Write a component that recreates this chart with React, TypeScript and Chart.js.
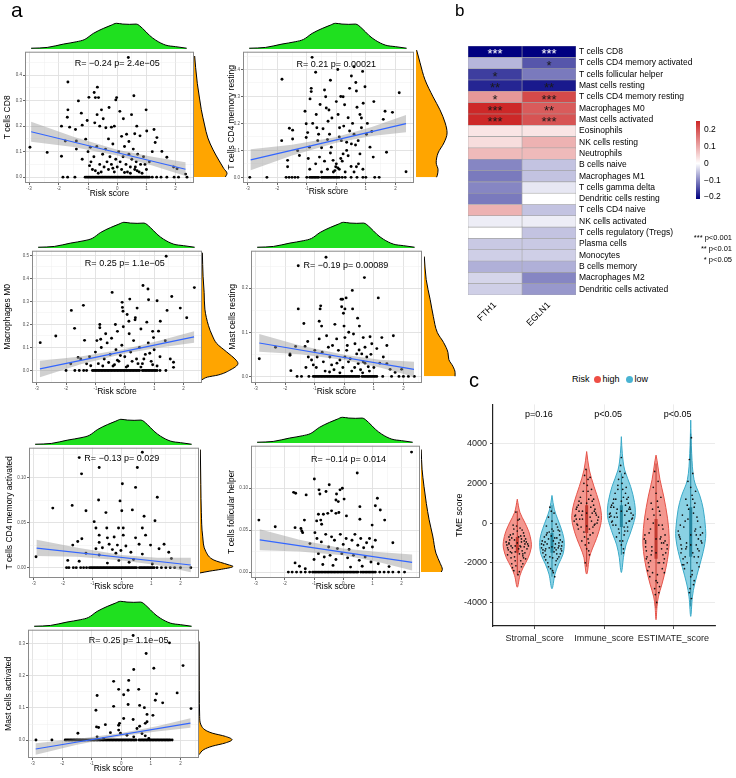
import React, { useEffect, useRef } from "react";
import { Chart, registerables } from "chart.js";

Chart.register(...registerables);

const FONT = "'Liberation Sans', Arial, Helvetica, sans-serif";
Chart.defaults.font.family = FONT;
Chart.defaults.color = "#000";

type XY = [number, number];

// ================= Panel a : shared risk score axis =================
const riskTicks = [-3, -2, -1, 0, 1, 2];
const riskMinor = [-2.5, -1.5, -0.5, 0.5, 1.5, 2.5];
const riskMin = -3.16;
const riskMax = 2.63;
const riskDensX = [-2.95, -2.4, -1.84, -1.39, -1.11, -0.82, -0.48, -0.2, -0.03, 0.19, 0.42, 0.65, 0.87, 1.1, 1.32, 1.66, 2.0, 2.38];
const riskDensY = [0.03, 0.06, 0.19, 0.28, 0.37, 0.6, 0.79, 0.92, 0.99, 0.96, 0.95, 0.96, 0.79, 0.53, 0.34, 0.15, 0.09, 0.03];
// many samples sit exactly at zero fraction; these fill the dense centre of that row
const denseZeroRow: XY[] = [
  [-1.05, 0], [-0.95, 0], [-0.85, 0], [-0.75, 0], [-0.65, 0], [-0.55, 0], [-0.45, 0], [-0.35, 0], [-0.25, 0], [-0.15, 0],
  [-0.05, 0], [0.05, 0], [0.15, 0], [0.25, 0], [0.35, 0], [0.45, 0], [0.65, 0], [0.75, 0], [0.85, 0], [0.95, 0], [1.05, 0],
];

// ---- T cells CD8 ----
const cd8Points: XY[] = [
  [-2.99, 0.117], [-2.4, 0.097], [-1.91, 0.082], [-1.91, 0.2], [-1.69, 0.373], [-1.69, 0.264], [-1.71, 0.235], [-1.63, 0.196],
  [-1.78, 0.142], [-1.43, 0.187], [-1.33, 0.299], [-1.23, 0.251], [-1.2, 0.204], [-1.4, 0.142], [-1.08, 0.149], [-1.03, 0.222],
  [-0.97, 0.313], [-0.92, 0.117], [-0.79, 0.332], [-0.68, 0.353], [-0.75, 0.312], [-0.64, 0.312], [-0.69, 0.245], [-0.77, 0.213],
  [-0.54, 0.264], [-0.48, 0.229], [-0.6, 0.2], [-0.39, 0.194], [-0.28, 0.273], [-0.2, 0.196], [-0.1, 0.2], [-0.02, 0.312],
  [-0.05, 0.303], [0.09, 0.258], [0.21, 0.229], [0.32, 0.168], [0.38, 0.469], [0.57, 0.319], [0.49, 0.245], [0.67, 0.2],
  [0.78, 0.162], [0.99, 0.264], [1.01, 0.181], [1.26, 0.187], [1.3, 0.136], [1.36, 0.155], [1.53, 0.101], [1.7, 0.078],
  [1.93, 0.04], [2.05, 0.033], [2.34, 0.012],
  [-1.0, 0.1], [-0.9, 0.06], [-0.85, 0.03], [-0.8, 0.08], [-0.7, 0.12], [-0.6, 0.05], [-0.55, 0.02], [-0.5, 0.09], [-0.45, 0.04],
  [-0.4, 0.11], [-0.35, 0.06], [-0.3, 0.03], [-0.25, 0.08], [-0.2, 0.05], [-0.15, 0.13], [-0.1, 0.02], [-0.05, 0.07], [0, 0.04],
  [0.05, 0.1], [0.1, 0.06], [0.15, 0.03], [0.2, 0.08], [0.25, 0.12], [0.3, 0.05], [0.35, 0.02], [0.4, 0.09], [0.45, 0.04],
  [0.5, 0.07], [0.55, 0.11], [0.6, 0.03], [0.65, 0.06], [0.7, 0.09], [0.75, 0.02], [0.8, 0.05], [0.9, 0.08], [1.0, 0.03],
  [1.1, 0.06], [1.2, 0.1], [-1.2, 0.07], [-1.4, 0.11], [-0.65, 0.015], [0.45, 0.015], [0.62, 0.04], [0.68, 0.025], [-0.95, 0.045],
  [0.85, 0.015], [-0.3, 0.15], [0.15, 0.16], [0.4, 0.14], [0.6, 0.17], [-0.75, 0.025], [-0.15, 0.035], [0.25, 0.018], [0.95, 0.05],
  [-1.86, 0], [-1.7, 0], [-1.45, 0], [-1.1, 0], [-1.0, 0], [-0.9, 0], [-0.8, 0], [-0.7, 0], [-0.6, 0], [-0.5, 0], [-0.4, 0],
  [-0.3, 0], [-0.2, 0], [-0.1, 0], [0, 0], [0.1, 0], [0.2, 0], [0.3, 0], [0.4, 0], [0.5, 0], [0.55, 0], [0.6, 0], [0.7, 0],
  [0.8, 0], [0.9, 0], [1.0, 0], [1.1, 0], [1.2, 0], [1.35, 0], [1.5, 0], [1.7, 0], [1.95, 0], [2.1, 0], [2.39, 0],
  ...denseZeroRow,
];
const cd8Line: XY[] = [[-2.95, 0.178], [2.34, 0.031]];
const cd8BandX = [-2.95, -1.5, 0, 1.2, 2.34];
const cd8BandHi = [0.217, 0.158, 0.107, 0.08, 0.058];
const cd8BandLo = [0.139, 0.118, 0.085, 0.046, 0.004];
const cd8Dens: XY[] = [[0, 0.95], [0.014, 1.0], [0.033, 0.9], [0.065, 0.75], [0.104, 0.58], [0.15, 0.42], [0.2, 0.32], [0.26, 0.22], [0.3, 0.17], [0.36, 0.1], [0.42, 0.05], [0.465, 0.02]];

// ---- T cells CD4 memory resting ----
const cd4RestPoints: XY[] = [
  [-2.93, 0], [-2.35, 0], [-1.85, 0.136], [-1.84, 0.364], [-1.65, 0.063], [-1.65, 0.039], [-1.59, 0.182], [-1.48, 0.175],
  [-1.48, 0.142], [-1.31, 0.099], [-1.25, 0.081], [-1.06, 0.245], [-1.02, 0.199], [-0.97, 0.166], [-1.02, 0.148], [-0.91, 0.112],
  [-0.85, 0.318], [-0.89, 0.291], [-0.85, 0.33], [-0.82, 0.445], [-0.68, 0.233], [-0.66, 0.184], [-0.63, 0.136], [-0.57, 0.075],
  [-0.4, 0.324], [-0.36, 0.299], [-0.34, 0.257], [-0.28, 0.208], [-0.23, 0.16], [-0.17, 0.112], [-0.11, 0.063], [0, 0.281],
  [0.06, 0.233], [0.11, 0.184], [0.17, 0.136], [0.23, 0.087], [-0.02, 0.039], [0.23, 0.299], [0.28, 0.269], [0.4, 0.221],
  [0.45, 0.172], [0.51, 0.124], [0.51, 0.376], [0.66, 0.352], [0.68, 0.32], [0.89, 0.393], [0.97, 0.336], [0.91, 0.275],
  [0.8, 0.233], [0.85, 0.184], [0.74, 0.136], [0.8, 0.087], [0.68, 0.039], [1.27, 0.281], [1.02, 0.16], [1.14, 0.112],
  [1.25, 0.075], [1.65, 0.245], [1.9, 0.241], [1.7, 0.093], [1.59, 0.215], [2.13, 0.314], [2.36, 0.021],
  [-0.9, 0.03], [-0.7, 0.05], [-0.5, 0.02], [-0.4, 0.06], [-0.3, 0.03], [-0.2, 0.09], [-0.1, 0.02], [0, 0.05], [0.1, 0.03],
  [0.2, 0.06], [0.3, 0.02], [0.4, 0.08], [0.5, 0.04], [0.6, 0.02], [0.75, 0.05], [0.9, 0.03], [-0.05, 0.025], [0.05, 0.035],
  [-0.8, 0.2], [-0.6, 0.16], [-0.45, 0.18], [-0.3, 0.14], [-0.15, 0.22], [0.1, 0.15], [0.25, 0.19], [0.35, 0.13], [0.55, 0.2],
  [0.6, 0.16], [0.7, 0.26], [0.85, 0.22], [1.05, 0.2], [1.2, 0.17], [-0.55, 0.27], [0.15, 0.3], [0.45, 0.33], [-0.2, 0.36],
  [0.05, 0.4], [0.6, 0.41], [-0.7, 0.39], [-0.5, 0.11], [-0.25, 0.25], [0.35, 0.1], [0.65, 0.12], [-0.95, 0.07], [0.15, 0.07],
  [-1.7, 0], [-1.6, 0], [-1.5, 0], [-1.4, 0], [-1.3, 0], [-1.0, 0], [-0.9, 0], [-0.8, 0], [-0.7, 0], [-0.6, 0], [-0.5, 0],
  [-0.4, 0], [-0.3, 0], [-0.2, 0], [-0.1, 0], [0, 0], [0.1, 0], [0.2, 0], [0.3, 0], [0.5, 0], [0.7, 0], [0.9, 0], [1.0, 0],
  [1.3, 0], [1.45, 0], [-0.85, 0], [-0.75, 0], [-0.65, 0], [-0.45, 0], [-0.35, 0], [-0.25, 0], [-0.15, 0], [-0.05, 0], [0.05, 0],
];
const cd4RestLine: XY[] = [[-2.9, 0.065], [2.36, 0.199]];
const cd4RestBandX = [-2.9, -1.5, 0, 1.2, 2.36];
const cd4RestBandHi = [0.104, 0.121, 0.15, 0.187, 0.231];
const cd4RestBandLo = [0.026, 0.081, 0.128, 0.153, 0.167];
const cd4RestDens: XY[] = [[0, 0.66], [0.005, 0.68], [0.027, 0.71], [0.052, 0.65], [0.088, 0.71], [0.125, 0.9], [0.161, 1.0], [0.197, 0.94], [0.245, 0.77], [0.292, 0.55], [0.354, 0.29], [0.416, 0.13], [0.462, 0.02]];

// ---- Macrophages M0 ----
const m0Points: XY[] = [
  [-2.88, 0.121], [-2.35, 0.15], [-1.82, 0.261], [-1.71, 0.183], [-1.84, 0.029], [-1.59, 0.057], [-1.5, 0.05], [-1.41, 0.283],
  [-1.37, 0.131], [-1.3, 0.029], [-1.16, 0.021], [-0.85, 0.2], [-0.85, 0.186], [-0.82, 0.136], [-0.43, 0.339], [-0.32, 0.2],
  [-0.09, 0.296], [-0.08, 0.274], [-0.06, 0.257], [0.08, 0.243], [0.14, 0.214], [0.17, 0.31], [0.42, 0.271], [0.36, 0.229],
  [0.62, 0.369], [0.79, 0.354], [0.81, 0.307], [1.1, 0.303], [1.41, 0.496], [1.6, 0.321], [1.44, 0.261], [1.89, 0.271],
  [2.11, 0.229], [2.37, 0.36], [1.38, 0.129], [1.55, 0.05], [1.66, 0.014], [1.66, 0.036], [1.21, 0.214], [1.15, 0.171], [0.98, 0.143],
  [-1.2, 0.06], [-1.0, 0.08], [-0.9, 0.03], [-0.8, 0.1], [-0.7, 0.05], [-0.6, 0.12], [-0.5, 0.07], [-0.4, 0.02], [-0.3, 0.09],
  [-0.2, 0.04], [-0.1, 0.11], [0, 0.06], [0.1, 0.02], [0.2, 0.08], [0.3, 0.13], [0.4, 0.05], [0.5, 0.1], [0.6, 0.03], [0.7, 0.07],
  [0.8, 0.12], [0.9, 0.04], [1.0, 0.09], [1.1, 0.02], [1.2, 0.06], [-0.65, 0.16], [-0.25, 0.17], [0.15, 0.16], [0.55, 0.18],
  [0.75, 0.21], [-0.05, 0.19], [0.35, 0.22], [-0.45, 0.14], [0.95, 0.17], [-0.95, 0.13], [0.05, 0.015], [-0.35, 0.025], [0.45, 0.03],
  [-0.55, 0.035], [0.25, 0.04], [0.65, 0.05], [-0.15, 0.065], [0.85, 0.075], [-0.75, 0.02], [0.55, 0.015], [0.95, 0.025], [-0.25, 0.045],
  [-2.0, 0], [-1.7, 0], [-1.55, 0], [-1.4, 0], [-1.3, 0], [-1.1, 0], [-1.0, 0], [-0.9, 0], [-0.8, 0], [-0.7, 0], [-0.6, 0],
  [-0.5, 0], [-0.4, 0], [-0.3, 0], [-0.2, 0], [-0.1, 0], [0, 0], [0.1, 0], [0.2, 0], [0.3, 0], [0.4, 0], [0.5, 0], [0.6, 0],
  [0.7, 0], [0.8, 0], [0.9, 0], [1.0, 0], [1.1, 0], [1.2, 0], [1.4, 0],
  ...denseZeroRow,
];
const m0Line: XY[] = [[-2.89, 0.007], [2.36, 0.146]];
const m0BandX = [-2.89, -1.5, 0, 1.2, 2.36];
const m0BandHi = [0.043, 0.061, 0.094, 0.13, 0.171];
const m0BandLo = [-0.029, 0.027, 0.074, 0.1, 0.121];
const m0Dens: XY[] = [[-0.04, 0.0], [-0.029, 0.15], [-0.02, 0.45], [0, 0.77], [0.029, 1.0], [0.043, 0.95], [0.079, 0.68], [0.114, 0.41], [0.15, 0.28], [0.19, 0.18], [0.26, 0.08], [0.33, 0.06], [0.4, 0.03], [0.5, 0.01]];

// ---- Mast cells resting ----
const mastRestPoints: XY[] = [
  [-2.88, 0.04], [-2.33, 0.066], [-1.84, 0.048], [-1.84, 0.051], [-1.81, 0.013], [-1.65, 0.068], [-1.56, 0.251], [-1.56, 0.153],
  [-1.37, 0.12], [-1.33, 0.068], [-1.24, 0.079], [-1.22, 0.044], [-1.11, 0.037], [-1.05, 0.026], [-1.0, 0.059], [-0.92, 0.044],
  [-0.85, 0.125], [-0.8, 0.16], [-0.82, 0.153], [-0.77, 0.114], [-0.62, 0.27], [-0.6, 0.092], [-0.54, 0.066], [-0.49, 0.044],
  [-0.43, 0.026], [-0.71, 0.033], [-0.32, 0.118], [-0.26, 0.085], [-0.2, 0.059], [-0.15, 0.037], [-0.11, 0.175], [-0.06, 0.175],
  [-0.09, 0.158], [-0.03, 0.143], [-0.01, 0.114], [0.02, 0.088], [0.08, 0.059], [0.14, 0.033], [0.02, 0.044], [0.06, 0.178],
  [0.02, 0.153], [0.27, 0.195], [0.28, 0.153], [0.31, 0.096], [0.36, 0.074], [0.42, 0.051], [0.47, 0.029], [0.45, 0.132],
  [0.51, 0.114], [0.68, 0.224], [0.64, 0.088], [0.7, 0.066], [0.76, 0.044], [0.81, 0.022], [0.59, 0.051], [0.64, 0.033],
  [0.87, 0.09], [0.93, 0.074], [1.15, 0.178], [1.27, 0.088], [1.1, 0.063], [1.32, 0.044], [1.44, 0.07], [1.66, 0.092],
  [1.44, 0.029], [1.55, 0.016], [1.72, 0.009], [1.94, 0.016],
  [-0.95, 0.02], [-0.75, 0.055], [-0.65, 0.012], [-0.4, 0.07], [-0.35, 0.015], [-0.25, 0.03], [-0.05, 0.02], [0.1, 0.07],
  [0.2, 0.04], [0.25, 0.012], [0.5, 0.06], [0.55, 0.015], [0.7, 0.03], [0.9, 0.05], [1.0, 0.02], [1.2, 0.03], [-1.3, 0.02],
  [-0.5, 0.01], [-0.15, 0.008], [0.35, 0.02], [0.62, 0.008], [0.85, 0.012], [-0.85, 0.085], [0.15, 0.1],
  [-1.45, 0], [-1.6, 0], [-1.2, 0], [-1.0, 0], [-0.9, 0], [-0.8, 0], [-0.7, 0], [-0.6, 0], [-0.5, 0], [-0.4, 0], [-0.3, 0],
  [-0.2, 0], [-0.1, 0], [0, 0], [0.1, 0], [0.2, 0], [0.3, 0], [0.4, 0], [0.5, 0], [0.6, 0], [0.7, 0], [0.8, 0], [0.9, 0],
  [1.0, 0], [1.1, 0], [1.3, 0], [1.6, 0], [1.85, 0], [2.0, 0], [2.17, 0], [2.37, 0],
  ...denseZeroRow,
];
const mastRestLine: XY[] = [[-2.88, 0.0757], [2.36, 0.016]];
const mastRestBandX = [-2.88, -1.5, 0, 1.2, 2.36];
const mastRestBandHi = [0.096, 0.07, 0.049, 0.038, 0.033];
const mastRestBandLo = [0.056, 0.05, 0.037, 0.02, -0.001];
const mastRestDens: XY[] = [[0, 1.0], [0.008, 1.0], [0.022, 0.93], [0.037, 0.8], [0.053, 0.77], [0.075, 0.63], [0.097, 0.43], [0.133, 0.3], [0.17, 0.2], [0.215, 0.07], [0.266, 0.01]];

// ---- T cells CD4 memory activated ----
const cd4ActPoints: XY[] = [
  [0.7, 0.128], [-1.45, 0.122], [-1.37, 0.104], [-0.77, 0.111], [0.53, 0.111], [0.02, 0.093], [0.47, 0.089], [-0.79, 0.075],
  [1.21, 0.078], [-0.06, 0.074], [-2.35, 0.066], [-1.69, 0.069], [-1.22, 0.063], [-0.54, 0.061], [0, 0.063], [0.36, 0.064],
  [0.76, 0.057], [1.13, 0.052], [-0.94, 0.051], [-0.88, 0.044], [-0.51, 0.044], [-0.11, 0.044], [0.05, 0.044], [0.7, 0.044],
  [-0.77, 0.036], [-0.49, 0.033], [-0.26, 0.034], [0.05, 0.036], [0.47, 0.033], [0.81, 0.036], [-1.36, 0.032], [-1.5, 0.029],
  [-1.67, 0.025], [-0.77, 0.028], [-0.43, 0.026], [-0.15, 0.025], [0.14, 0.024], [0.59, 0.026], [0.98, 0.025], [1.44, 0.026],
  [-0.88, 0.021], [-0.66, 0.022], [-0.32, 0.02], [-0.03, 0.019], [0.31, 0.017], [1.27, 0.021], [1.6, 0.017], [-1.22, 0.016],
  [-0.77, 0.014], [-0.2, 0.016], [0.7, 0.015], [1.69, 0.01], [-2.92, 0.012], [-1.84, 0.008], [-1.45, 0.007], [-0.49, 0.005],
  [0.25, 0.006], [1.04, 0.004], [-0.1, 0.008], [0.4, 0.009],
  [-1.88, 0], [-1.8, 0], [-1.65, 0], [-1.55, 0], [-1.4, 0], [-1.3, 0], [-1.2, 0], [-1.1, 0], [-1.0, 0], [-0.9, 0], [-0.8, 0],
  [-0.7, 0], [-0.6, 0], [-0.5, 0], [-0.4, 0], [-0.3, 0], [-0.2, 0], [-0.1, 0], [0, 0], [0.1, 0], [0.2, 0], [0.3, 0], [0.4, 0],
  [0.5, 0], [0.6, 0], [0.7, 0], [0.8, 0], [0.9, 0], [1.0, 0], [1.1, 0], [1.2, 0], [1.35, 0], [1.5, 0], [1.65, 0], [1.8, 0],
  [2.0, 0], [2.35, 0],
  ...denseZeroRow,
];
const cd4ActLine: XY[] = [[-2.9, 0.0217], [2.35, 0.0029]];
const cd4ActBandX = [-2.9, -1.5, 0, 1.2, 2.35];
const cd4ActBandHi = [0.031, 0.022, 0.014, 0.011, 0.011];
const cd4ActBandLo = [0.013, 0.012, 0.008, 0.003, -0.005];
const cd4ActDens: XY[] = [[-0.006, 0.0], [-0.004, 0.3], [-0.002, 0.65], [0.001, 1.0], [0.003, 0.85], [0.008, 0.42], [0.017, 0.18], [0.034, 0.08], [0.06, 0.04], [0.09, 0.025], [0.128, 0.01]];

// ---- T cells follicular helper ----
const tfhPoints: XY[] = [
  [2.34, 0.143], [0.48, 0.118], [-0.99, 0.111], [-0.48, 0.104], [-1.7, 0.095], [-1.63, 0.094], [-1.27, 0.092], [-0.83, 0.098],
  [-0.8, 0.093], [-0.59, 0.096], [-0.23, 0.093], [-0.11, 0.098], [-0.03, 0.1], [-0.25, 0.086], [-0.17, 0.084], [0.03, 0.087],
  [0.57, 0.078], [1.17, 0.088], [1.1, 0.079], [1.27, 0.074], [-0.85, 0.069], [-0.68, 0.069], [-0.53, 0.07], [-0.4, 0.073],
  [-0.25, 0.07], [-0.15, 0.071], [0.11, 0.067], [-2.89, 0.062], [-2.33, 0.054], [-1.33, 0.062], [-1.65, 0.053], [-1.45, 0.052],
  [-1.42, 0.049], [-1.39, 0.047], [-0.91, 0.061], [-0.77, 0.062], [-0.74, 0.057], [0.57, 0.063], [0.99, 0.056], [1.42, 0.062],
  [1.7, 0.035], [-1.14, 0.034], [-0.97, 0.047],
  [-0.9, 0.04], [-0.75, 0.036], [-0.6, 0.045], [-0.5, 0.03], [-0.4, 0.042], [-0.3, 0.038], [-0.2, 0.028], [-0.1, 0.045],
  [0, 0.033], [0.1, 0.04], [0.2, 0.027], [0.3, 0.038], [0.4, 0.045], [0.5, 0.032], [0.6, 0.04], [0.7, 0.029], [0.8, 0.035],
  [0.9, 0.04], [1.0, 0.03], [1.1, 0.038], [-0.85, 0.022], [-0.65, 0.018], [-0.45, 0.02], [-0.25, 0.015], [-0.05, 0.022],
  [0.15, 0.017], [0.35, 0.02], [0.55, 0.014], [0.75, 0.018], [0.95, 0.012], [-1.0, 0.015], [-0.7, 0.009], [-0.35, 0.008],
  [0.25, 0.006], [0.65, 0.007], [1.2, 0.01], [-1.65, 0.011], [-1.5, 0.007], [-1.3, 0.004], [1.57, 0.0066],
  [-1.88, 0], [-1.75, 0], [-1.6, 0], [-1.45, 0], [-1.3, 0], [-1.15, 0], [-1.0, 0], [-0.9, 0], [-0.8, 0], [-0.7, 0], [-0.6, 0],
  [-0.5, 0], [-0.4, 0], [-0.3, 0], [-0.2, 0], [-0.1, 0], [0, 0], [0.1, 0], [0.2, 0], [0.3, 0], [0.4, 0], [0.5, 0], [0.6, 0],
  [0.7, 0], [0.8, 0], [0.9, 0], [1.0, 0], [1.1, 0], [1.25, 0], [1.4, 0], [1.55, 0], [1.7, 0], [1.9, 0], [2.1, 0],
  ...denseZeroRow,
];
const tfhLine: XY[] = [[-2.86, 0.0385], [2.36, 0.0117]];
const tfhBandX = [-2.86, -1.5, 0, 1.2, 2.36];
const tfhBandHi = [0.051, 0.0385, 0.028, 0.024, 0.021];
const tfhBandLo = [0.026, 0.0245, 0.02, 0.012, 0.002];
const tfhDens: XY[] = [[0, 0.95], [0.003, 1.0], [0.01, 0.9], [0.022, 0.7], [0.042, 0.55], [0.061, 0.38], [0.08, 0.25], [0.1, 0.14], [0.12, 0.05], [0.143, 0.01]];

// ---- Mast cells activated ----
const mastActPoints: XY[] = [
  [0.4, 0.326], [1.63, 0.303], [0.84, 0.27], [0.42, 0.22], [1.1, 0.224], [2.09, 0.232], [-0.26, 0.183], [0.25, 0.186],
  [-0.09, 0.158], [0.23, 0.155], [0.59, 0.158], [-0.82, 0.139], [0.08, 0.141], [1.19, 0.144], [1.89, 0.147], [1.15, 0.124],
  [1.4, 0.116], [0.23, 0.111], [0.62, 0.108], [-0.26, 0.105], [0.78, 0.101], [2.36, 0.098], [-0.86, 0.093], [0.87, 0.08],
  [1.07, 0.077], [0.08, 0.067], [0.4, 0.064], [-0.06, 0.052], [-0.09, 0.046], [-0.54, 0.048], [-0.84, 0.041], [-0.77, 0.039],
  [-1.47, 0.021], [-0.37, 0.023], [-0.09, 0.031], [-0.03, 0.021], [0.53, 0.036], [0.62, 0.043], [0.81, 0.052], [0.87, 0.057],
  [0.19, 0.015], [0.42, 0.01], [0.7, 0.02], [0.81, 0.013], [0.93, 0.005], [-0.82, 0.01], [-0.6, 0.005],
  [-2.89, 0], [-2.35, 0], [-1.9, 0], [-1.8, 0], [-1.7, 0], [-1.6, 0], [-1.5, 0], [-1.4, 0], [-1.3, 0], [-1.2, 0], [-1.1, 0],
  [-1.0, 0], [-0.9, 0], [-0.8, 0], [-0.7, 0], [-0.6, 0], [-0.5, 0], [-0.4, 0], [-0.3, 0], [-0.2, 0], [-0.1, 0], [0, 0],
  [0.1, 0], [0.2, 0], [0.3, 0], [0.4, 0], [0.5, 0], [0.6, 0], [0.7, 0], [0.8, 0], [0.9, 0], [1.0, 0], [1.1, 0], [1.2, 0],
  [1.3, 0], [1.4, 0], [1.5, 0], [1.6, 0], [1.72, 0], [-1.85, 0], [-1.75, 0], [-1.65, 0], [-1.55, 0], [-1.45, 0], [-1.35, 0],
  [-1.25, 0], [-1.15, 0], [1.15, 0], [1.25, 0], [1.35, 0], [1.45, 0], [1.55, 0], [1.65, 0],
  ...denseZeroRow,
];
const mastActLine: XY[] = [[-2.9, -0.028], [2.34, 0.053]];
const mastActBandX = [-2.9, -1.5, 0, 1.2, 2.34];
const mastActBandHi = [-0.01, 0.003, 0.022, 0.043, 0.068];
const mastActBandLo = [-0.046, -0.015, 0.012, 0.027, 0.038];
const mastActDens: XY[] = [[-0.046, 0.0], [-0.03, 0.15], [-0.02, 0.4], [-0.01, 0.8], [0, 1.0], [0.01, 0.8], [0.02, 0.4], [0.03, 0.18], [0.045, 0.06], [0.07, 0.02], [0.15, 0.01], [0.3, 0.004]];

// layout of the seven scatter panels
const panels = [
  { title: "T cells CD8", stat: "R= \u22120.24 p= 2.4e\u221205", statAt: [0, 0.444], pts: cd8Points, line: cd8Line, bandX: cd8BandX, bandHi: cd8BandHi, bandLo: cd8BandLo, dens: cd8Dens,
    yRange: [-0.023, 0.492], yTicks: [0, 0.1, 0.2, 0.3, 0.4], yMinor: [0.05, 0.15, 0.25, 0.35, 0.45], yDigits: 1,
    box: [25, 49, 194, 183], yTitleX: 8.3, xTitleY: 194.3, densLeft: 194, densW: 33 },
  { title: "T cells CD4 memory resting", stat: "R= 0.21 p= 0.00021", statAt: [0, 0.42], pts: cd4RestPoints, line: cd4RestLine, bandX: cd4RestBandX, bandHi: cd4RestBandHi, bandLo: cd4RestBandLo, dens: cd4RestDens,
    yRange: [-0.021, 0.466], yTicks: [0, 0.1, 0.2, 0.3, 0.4], yMinor: [0.05, 0.15, 0.25, 0.35, 0.45], yDigits: 1,
    box: [243, 49, 414, 183], yTitleX: 232, xTitleY: 192.3, densLeft: 416, densW: 31 },
  { title: "Macrophages M0", stat: "R= 0.25 p= 1.1e\u221205", statAt: [0, 0.464], pts: m0Points, line: m0Line, bandX: m0BandX, bandHi: m0BandHi, bandLo: m0BandLo, dens: m0Dens,
    yRange: [-0.054, 0.52], yTicks: [0, 0.1, 0.2, 0.3, 0.4, 0.5], yMinor: [0.05, 0.15, 0.25, 0.35, 0.45], yDigits: 1,
    box: [32, 248, 202, 383], yTitleX: 8.3, xTitleY: 391.7, densLeft: 202, densW: 36 },
  { title: "Mast cells resting", stat: "R= \u22120.19 p= 0.00089", statAt: [0.05, 0.252], pts: mastRestPoints, line: mastRestLine, bandX: mastRestBandX, bandHi: mastRestBandHi, bandLo: mastRestBandLo, dens: mastRestDens,
    yRange: [-0.015, 0.285], yTicks: [0, 0.1, 0.2], yMinor: [0.05, 0.15, 0.25], yDigits: 1,
    box: [251, 248, 422, 383], yTitleX: 232.7, xTitleY: 391.7, densLeft: 424, densW: 31 },
  { title: "T cells CD4 memory activated", stat: "R= \u22120.13 p= 0.029", statAt: [0, 0.121], pts: cd4ActPoints, line: cd4ActLine, bandX: cd4ActBandX, bandHi: cd4ActBandHi, bandLo: cd4ActBandLo, dens: cd4ActDens,
    yRange: [-0.0115, 0.133], yTicks: [0, 0.05, 0.1], yMinor: [0.025, 0.075, 0.125], yDigits: 2,
    box: [29, 445, 199, 578], yTitleX: 9.7, xTitleY: 587.3, densLeft: 200, densW: 33 },
  { title: "T cells follicular helper", stat: "R= \u22120.14 p= 0.014", statAt: [0.18, 0.134], pts: tfhPoints, line: tfhLine, bandX: tfhBandX, bandHi: tfhBandHi, bandLo: tfhBandLo, dens: tfhDens,
    yRange: [-0.007, 0.1506], yTicks: [0, 0.05, 0.1], yMinor: [0.025, 0.075, 0.125], yDigits: 2,
    box: [251, 443, 420, 578], yTitleX: 231.7, xTitleY: 587.3, densLeft: 421, densW: 21 },
  { title: "Mast cells activated", stat: "R= 0.25 p= 1.1e\u221205", statAt: [0.25, 0.311], pts: mastActPoints, line: mastActLine, bandX: mastActBandX, bandHi: mastActBandHi, bandLo: mastActBandLo, dens: mastActDens,
    yRange: [-0.056, 0.344], yTicks: [0, 0.1, 0.2, 0.3], yMinor: [0.05, 0.15, 0.25], yDigits: 1,
    box: [28, 627, 199, 758], yTitleX: 9.3, xTitleY: 769.3, densLeft: 199, densW: 33 },
];

// ================= Panel b : correlation heatmap =================
const heatRows = [
  "T cells CD8", "T cells CD4 memory activated", "T cells follicular helper", "Mast cells resting",
  "T cells CD4 memory resting", "Macrophages M0", "Mast cells activated", "Eosinophils", "NK cells resting",
  "Neutrophils", "B cells naive", "Macrophages M1", "T cells gamma delta", "Dendritic cells resting",
  "T cells CD4 naive", "NK cells activated", "T cells regulatory (Tregs)", "Plasma cells", "Monocytes",
  "B cells memory", "Macrophages M2", "Dendritic cells activated",
];
const heatCols = ["FTH1", "EGLN1"];
const fth1Cor = [-0.24, -0.06, -0.16, -0.18, 0.12, 0.25, 0.25, 0.03, 0.04, 0.08, -0.1, -0.11, -0.1, -0.11, 0.09, -0.015, 0.0, -0.045, -0.04, -0.065, -0.035, -0.04];
const egln1Cor = [-0.23, -0.14, -0.11, -0.19, 0.21, 0.19, 0.2, 0.03, 0.09, 0.08, -0.05, -0.05, -0.02, 0.0, -0.05, -0.015, -0.05, -0.045, -0.04, -0.065, -0.1, -0.085];
const fth1Stars = ["***", "", "*", "**", "*", "***", "***", "", "", "", "", "", "", "", "", "", "", "", "", "", "", ""];
const egln1Stars = ["***", "*", "", "**", "***", "**", "***", "", "", "", "", "", "", "", "", "", "", "", "", "", "", ""];
const colorbarRange = [-0.211, 0.252];
const colorbarTicks = [-0.2, -0.1, 0, 0.1, 0.2];
const colorbarLabels = ["\u22120.2", "\u22120.1", "0", "0.1", "0.2"];
const sigLegend = ["*** p<0.001", "** p<0.01", "* p<0.05"];

// ================= Panel c : TME score violins =================
const tmeCategories = ["Stromal_score", "Immune_score", "ESTIMATE_score"];
const tmePositions = [1, 2, 3];
const tmeTicks = [-4000, -2000, 0, 2000, 4000];
const tmePvalues = ["p=0.16", "p<0.05", "p<0.05"];
const riskGroups = ["high", "low"];

const vStromalHighY = [1200, 540, 50, -440, -930, -1260, -1750, -2230, -2650, -3230];
const vStromalHighW = [0, 0.038, 0.105, 0.167, 0.2, 0.2, 0.157, 0.086, 0.038, 0];
const vStromalLowY = [1390, 700, 210, -280, -770, -1180, -1590, -2070, -2570, -3310];
const vStromalLowW = [0, 0.033, 0.081, 0.133, 0.171, 0.176, 0.157, 0.095, 0.043, 0];
const vImmuneHighY = [3600, 2670, 1850, 1030, 380, -110, -770, -1260, -1750, -2410, -2570];
const vImmuneHighW = [0, 0.038, 0.105, 0.181, 0.214, 0.2, 0.143, 0.086, 0.038, 0.014, 0];
const vImmuneLowY = [4350, 3490, 2670, 1850, 1030, 380, -110, -610, -1100, -1750, -2250, -2490];
const vImmuneLowW = [0, 0.014, 0.048, 0.133, 0.19, 0.2, 0.167, 0.119, 0.067, 0.029, 0.014, 0];
const vEstimateHighY = [3420, 3160, 2180, 1360, 210, -770, -1430, -2250, -3070, -3720, -4210, -4870];
const vEstimateHighW = [0, 0.014, 0.057, 0.11, 0.167, 0.19, 0.181, 0.143, 0.086, 0.033, 0.014, 0];
const vEstimateLowY = [5180, 3490, 2180, 1360, 700, -280, -770, -1430, -2250, -3070, -3720, -4700];
const vEstimateLowW = [0, 0.014, 0.048, 0.133, 0.181, 0.214, 0.214, 0.181, 0.119, 0.057, 0.024, 0];

// boxplot stats: [lower whisker, q1, median, q3, upper whisker]
const bStromalHigh = [-2600, -1500, -1100, -700, 600];
const bStromalLow = [-2700, -1500, -1000, -500, 900];
const bImmuneHigh = [-2200, -500, 100, 900, 2700];
const bImmuneLow = [-1600, -200, 350, 900, 2500];
const bEstimateHigh = [-4300, -1800, -900, 200, 3000];
const bEstimateLow = [-4200, -1700, -500, 800, 4500];

// sample points: [offset from violin centre, TME score]
const jStromalHigh: XY[] = [[-0.12, -1050], [0.05, -1200], [0.1, -900], [-0.08, -1500], [0.02, -700], [-0.15, -1100], [0.14, -1300], [-0.03, -1900], [0.08, -1650], [-0.1, -600], [0.12, -800], [-0.05, -300], [0.03, 200], [-0.02, 550], [0.06, -2200], [-0.05, -2400], [0.0, -1000], [-0.13, -1350], [0.09, -500], [-0.09, -1750], [0.11, -1500], [0.04, -1150], [-0.04, -850], [0.15, -1050], [-0.16, -950], [0.07, -350], [-0.08, -2050], [0.01, -2600], [0.03, -1550], [-0.07, -1250], [0.12, -1800], [-0.01, -150], [0.06, -950], [-0.12, -700], [0.08, -2050], [-0.03, -1450], [0.1, -1200], [-0.14, -1600], [0.05, -650], [-0.06, -100],
  [-0.09, -1150], [0.07, -1400], [-0.04, -1700], [0.13, -950], [-0.11, -850], [0.02, -1300], [0.09, -1750], [-0.06, -550], [0.04, -250], [-0.14, -1250], [0.1, -650], [-0.02, -2150], [0.05, -1900], [-0.1, -1450], [0.16, -1150], [-0.07, -2250], [0.0, -400], [0.11, -1050], [-0.12, -1000], [0.06, -800], [-0.03, -1150], [0.03, -2450], [-0.08, -750], [0.08, -1550], [0.01, 150]];
const jStromalLow: XY[] = [[0.1, -1000], [-0.05, -800], [0.13, -1300], [-0.12, -1100], [0.02, -400], [-0.09, -1600], [0.06, -1900], [-0.02, -2300], [0.04, -2700], [-0.07, -500], [0.11, -600], [-0.14, -900], [0.0, 100], [0.03, 500], [-0.03, 800], [0.08, -200], [-0.1, -1400], [0.14, -1150], [-0.04, -1250], [0.07, -1550], [-0.11, -700], [0.12, -850], [0.01, -1750], [-0.06, -2000], [0.05, -1050], [-0.15, -1250], [0.09, -350], [-0.08, -150], [0.02, -2500], [0.15, -950], [-0.01, -650], [0.06, -1350], [-0.13, -1500], [0.1, -1700], [-0.05, 300], [0.04, -750], [-0.09, -1850], [0.0, -1200],
  [0.09, -1250], [-0.07, -1050], [0.03, -1450], [-0.13, -1350], [0.11, -400], [-0.03, -1700], [0.05, -2100], [-0.08, -600], [0.14, -1400], [-0.1, -950], [0.07, -750], [-0.05, -2200], [0.0, -300], [0.12, -1550], [-0.15, -1050], [0.02, -900], [-0.01, 600], [0.06, -50], [-0.11, -1700], [0.1, -1150], [-0.04, -450], [0.04, -1250], [-0.09, -1300], [0.01, -2400], [0.08, -1800]];
const jImmuneHigh: XY[] = [[-0.1, 200], [0.08, 500], [0.15, 0], [-0.16, 400], [0.03, 1200], [-0.05, 1600], [0.02, 2200], [-0.01, 2700], [0.1, 900], [-0.12, -300], [0.05, -600], [-0.07, -900], [0.0, -1300], [0.04, -1600], [-0.02, -2000], [0.12, 700], [-0.14, 800], [0.07, 100], [-0.08, 1000], [0.17, 300], [-0.18, 100], [0.09, -200], [-0.04, -450], [0.06, 1400], [-0.09, 1300], [0.01, 1900], [0.11, -100], [-0.13, -100], [0.03, -1000], [-0.06, 600], [0.13, 500], [-0.03, 2400], [0.05, 300], [-0.11, 600], [0.02, -800], [0.08, 1100], [-0.15, 200], [0.0, -150],
  [0.06, 800], [-0.06, 200], [0.14, 400], [-0.15, 700], [0.02, 1600], [-0.03, -700], [0.1, 1200], [-0.11, 1100], [0.04, -300], [-0.08, -200], [0.12, -50], [-0.17, 350], [0.0, 500], [0.07, 1700], [-0.04, 2000], [0.09, -500], [-0.12, 900], [0.16, 150], [-0.02, -1100], [0.05, 2300], [-0.07, 400], [0.11, 600], [-0.14, -50], [0.03, -1400], [0.0, 1000]];
const jImmuneLow: XY[] = [[-0.1, 300], [0.08, 600], [0.15, 200], [-0.16, 500], [0.03, 1300], [-0.05, 1700], [0.02, 2300], [-0.01, 2900], [0.1, 1000], [-0.12, -100], [0.05, -400], [-0.07, -700], [0.0, -1100], [0.03, -1500], [0.12, 800], [-0.14, 900], [0.07, 0], [-0.08, 1200], [0.17, 400], [-0.17, 300], [0.09, -200], [-0.04, -300], [0.06, 1500], [-0.09, 1500], [0.01, 2000], [0.11, 100], [-0.13, 100], [0.02, -900], [-0.06, 700], [0.13, 700], [-0.02, 2600], [0.05, 400], [-0.11, 800], [0.04, -600], [0.08, 1200], [-0.15, 350], [0.0, 3300], [-0.05, 1900],
  [0.06, 900], [-0.06, 300], [0.14, 500], [-0.15, 800], [0.02, 1700], [-0.03, -500], [0.1, 1300], [-0.11, 1200], [0.04, -200], [-0.08, -100], [0.12, 100], [-0.17, 450], [0.0, 600], [0.07, 1800], [-0.04, 2200], [0.09, -400], [-0.12, 1000], [0.16, 250], [-0.02, -900], [0.05, 2500], [-0.07, 500], [0.11, 700], [-0.14, 50], [0.03, -1300], [0.0, 1100]];
const jEstimateHigh: XY[] = [[-0.1, -500], [0.08, -1000], [0.14, -1500], [-0.15, -900], [0.03, -2000], [-0.05, -2500], [0.02, -3000], [-0.01, -3600], [0.1, -300], [-0.12, 200], [0.05, 600], [-0.07, 1000], [0.0, 1500], [0.03, 2100], [0.12, -1800], [-0.14, -1400], [0.07, -700], [-0.08, -1900], [0.16, -1100], [-0.16, -600], [0.09, -2300], [-0.04, 0], [0.06, 400], [-0.09, -2700], [0.01, -4000], [0.11, -2000], [-0.13, -1700], [0.02, 1100], [-0.06, -1200], [0.13, -600], [-0.02, 2600], [0.05, -3200], [-0.1, -2200], [0.04, -100], [0.08, -1300], [-0.15, -1200], [0.0, -800], [-0.05, 700],
  [0.06, -800], [-0.06, -1400], [0.13, -900], [-0.15, -1000], [0.02, -2600], [-0.03, 400], [0.1, -1600], [-0.11, -2000], [0.04, -3500], [-0.08, -300], [0.12, -2500], [-0.17, -800], [0.0, -2900], [0.07, 1300], [-0.04, 1800], [0.09, -100], [-0.12, -2400], [0.16, -1300], [-0.02, -3300], [0.05, -2000], [-0.07, -1600], [0.11, -1000], [-0.14, -1800], [0.03, 800], [0.0, -1500]];
const jEstimateLow: XY[] = [[-0.1, -200], [0.08, -600], [0.15, -900], [-0.16, -700], [0.03, -1500], [-0.05, -2000], [0.02, -2600], [-0.01, -3300], [0.1, 100], [-0.12, 400], [0.05, 800], [-0.07, 1200], [0.0, 1800], [0.03, 2500], [0.12, -1400], [-0.14, -1100], [0.07, -300], [-0.08, -1700], [0.17, -500], [-0.18, -400], [0.09, -2000], [-0.04, 200], [0.06, 1000], [-0.09, -2300], [0.01, -3800], [0.11, -1700], [-0.13, -1300], [0.02, 1400], [-0.06, -1000], [0.14, -200], [-0.02, 3200], [0.05, -2900], [-0.1, -2100], [0.04, 500], [0.08, -1100], [-0.15, -100], [0.0, -600], [-0.05, 900], [0.01, 4300],
  [0.06, -400], [-0.06, -1200], [0.14, -600], [-0.15, -800], [0.02, -2400], [-0.03, 700], [0.1, -1300], [-0.11, -1800], [0.04, -3100], [-0.08, 100], [0.12, -2200], [-0.17, -600], [0.0, -2700], [0.07, 1600], [-0.04, 2100], [0.09, 300], [-0.12, -2100], [0.16, -1000], [-0.02, -3500], [0.05, -1700], [-0.07, -1300], [0.11, -800], [-0.14, -1500], [0.03, 1200], [0.0, -1100]];

// ================= helpers =================
const GREEN = "#1fe01f";
const ORANGE = "#ffa500";
const NAVY = [0, 0, 128];
const WHITE = [255, 255, 255];
const FIRE = [205, 38, 38];
const GROUP_FILL = ["rgba(241,128,118,0.82)", "rgba(112,199,222,0.82)"];
const GROUP_LINE = ["#e5544a", "#3aaac8"];
const GROUP_BOX = ["#c23a30", "#24869f"];
const GROUP_DOT = ["#ee4e45", "#49b3d2"];

function corColor(v: number) {
  let c = FIRE;
  let t = 0;
  if (v < 0) { c = NAVY; t = Math.min(1, v / colorbarRange[0]); }
  else { t = Math.min(1, v / colorbarRange[1]); }
  const rgb = WHITE.map((w, i) => Math.round(w + (c[i] - w) * t));
  return `rgb(${rgb.join(",")})`;
}

const baseOptions = () => ({
  responsive: false,
  animation: false as const,
  devicePixelRatio: 1,
  events: [] as any[],
  plugins: { legend: { display: false }, tooltip: { enabled: false } },
});

const framePlugin = {
  id: "frame",
  afterDraw(chart: any) {
    const { ctx, chartArea: a } = chart;
    ctx.save();
    ctx.strokeStyle = "#8a8a8a";
    ctx.lineWidth = 1;
    ctx.strokeRect(a.left + 0.5, a.top + 0.5, a.right - a.left - 1, a.bottom - a.top - 1);
    ctx.restore();
  },
};

function textPlugin(id: string, items: { text: string; x: number; y: number; size: number }[]) {
  return {
    id,
    afterDatasetsDraw(chart: any) {
      const { ctx } = chart;
      const xs = chart.scales.x;
      const ys = chart.scales.y;
      ctx.save();
      ctx.fillStyle = "#000";
      ctx.textAlign = "center";
      ctx.textBaseline = "middle";
      for (const it of items) {
        ctx.font = `${it.size}px ${FONT}`;
        ctx.fillText(it.text, xs.getPixelForValue(it.x), ys.getPixelForValue(it.y));
      }
      ctx.restore();
    },
  };
}

function ChartBox(props: { x: number; y: number; w: number; h: number; build: () => any }) {
  const ref = useRef<HTMLCanvasElement | null>(null);
  useEffect(() => {
    if (!ref.current) return;
    const chart = new Chart(ref.current, props.build());
    return () => chart.destroy();
  }, []);
  return (
    <canvas
      ref={ref}
      width={props.w}
      height={props.h}
      style={{ position: "absolute", left: props.x, top: props.y, width: props.w, height: props.h }}
    />
  );
}

// ---------- scatter panel charts ----------
function scatterConfig(p: any, wy: number, hx: number) {
  const band = [
    ...p.bandX.map((x: number, i: number) => ({ x, y: p.bandHi[i] })),
    ...p.bandX.map((x: number, i: number) => ({ x, y: p.bandLo[i] })).reverse(),
  ];
  const xAll = [...riskTicks, ...riskMinor].sort((a, b) => a - b);
  const yAll = [...p.yTicks, ...p.yMinor].sort((a: number, b: number) => a - b);
  const majX = (v: any) => riskTicks.includes(v);
  const majY = (v: any) => p.yTicks.includes(v);
  return {
    type: "scatter",
    data: {
      datasets: [
        { data: p.line.map(([x, y]: XY) => ({ x, y })), showLine: true, borderColor: "#3366ff", borderWidth: 1.2, pointRadius: 0, order: 0 },
        { data: band, showLine: true, fill: "shape", backgroundColor: "rgba(150,150,150,0.45)", borderColor: "rgba(0,0,0,0)", borderWidth: 0, pointRadius: 0, order: 1 },
        { data: p.pts.map(([x, y]: XY) => ({ x, y })), pointRadius: 1.45, backgroundColor: "#000", pointBackgroundColor: "#000", borderWidth: 0, pointBorderWidth: 0, order: 2 },
      ],
    },
    options: {
      ...baseOptions(),
      layout: { padding: { top: 1, right: 1, left: 0, bottom: 0 }, autoPadding: false },
      scales: {
        x: {
          type: "linear", min: riskMin, max: riskMax, bounds: "data",
          afterBuildTicks: (s: any) => { s.ticks = xAll.map((value) => ({ value })); },
          afterFit: (s: any) => { s.height = hx; },
          ticks: { autoSkip: false, maxRotation: 0, font: { size: 4.5 }, color: "#4d4d4d", padding: 1, callback: (v: any) => (majX(v) ? String(v) : "") },
          grid: {
            color: (c: any) => (majX(c.tick?.value) ? "#e0e0e0" : "#efefef"),
            lineWidth: (c: any) => (majX(c.tick?.value) ? 0.9 : 0.5),
            tickLength: 2,
            tickColor: (c: any) => (majX(c.tick?.value) ? "#555" : "rgba(0,0,0,0)"),
          },
          border: { display: false },
          title: { display: true, text: "Risk score", font: { size: 8.5 }, color: "#000", padding: { top: 0, bottom: 0 } },
        },
        y: {
          type: "linear", min: p.yRange[0], max: p.yRange[1], bounds: "data",
          afterBuildTicks: (s: any) => { s.ticks = yAll.map((value: number) => ({ value })); },
          afterFit: (s: any) => { s.width = wy; },
          ticks: { autoSkip: false, font: { size: 4.5 }, color: "#4d4d4d", padding: 1, callback: (v: any) => (majY(v) ? Number(v).toFixed(p.yDigits) : "") },
          grid: {
            color: (c: any) => (majY(c.tick?.value) ? "#e0e0e0" : "#efefef"),
            lineWidth: (c: any) => (majY(c.tick?.value) ? 0.9 : 0.5),
            tickLength: 2,
            tickColor: (c: any) => (majY(c.tick?.value) ? "#555" : "rgba(0,0,0,0)"),
          },
          border: { display: false },
          title: { display: true, text: p.title, font: { size: 8.5 }, color: "#000", padding: { top: 0, bottom: 0 } },
        },
      },
    },
    plugins: [framePlugin, textPlugin("stat", [{ text: p.stat, x: p.statAt[0], y: p.statAt[1], size: 9 }])],
  };
}

function topDensityConfig() {
  return {
    type: "line",
    data: {
      datasets: [{
        data: riskDensX.map((x, i) => ({ x, y: riskDensY[i] })),
        fill: "origin", backgroundColor: GREEN, borderColor: "#000", borderWidth: 1, pointRadius: 0, cubicInterpolationMode: "monotone",
      }],
    },
    options: {
      ...baseOptions(),
      layout: { padding: 0, autoPadding: false },
      scales: {
        x: { type: "linear", display: false, min: riskMin, max: riskMax, bounds: "data" },
        y: { type: "linear", display: false, min: 0, max: 1.04 },
      },
    },
  };
}

function rightDensityConfig(p: any) {
  return {
    type: "line",
    data: {
      datasets: [{
        data: p.dens.map(([y, d]: XY) => ({ x: d, y })),
        fill: "origin", backgroundColor: ORANGE, borderColor: "#000", borderWidth: 1, pointRadius: 0, cubicInterpolationMode: "monotone",
      }],
    },
    options: {
      ...baseOptions(),
      indexAxis: "y",
      layout: { padding: 0, autoPadding: false },
      scales: {
        x: { type: "linear", display: false, min: 0, max: 1.03 },
        y: { type: "linear", display: false, min: p.yRange[0], max: p.yRange[1], bounds: "data" },
      },
    },
  };
}

function ScatterPanel({ p }: { p: any }) {
  const [L, T, R, B] = p.box;
  const lh = 8.5 * 1.2;
  const cl = Math.round(p.yTitleX - lh / 2);
  const wy = L - cl;
  const ct = T - 1;
  const cb = Math.round(p.xTitleY + lh / 2);
  const ch = cb - ct;
  const hx = cb - B;
  const cw = R - cl + 1;
  return (
    <>
      <ChartBox x={L} y={T - 27} w={R - L} h={27} build={() => topDensityConfig()} />
      <ChartBox x={p.densLeft} y={T} w={p.densW + 1} h={B - T} build={() => rightDensityConfig(p)} />
      <ChartBox x={cl} y={ct} w={cw} h={ch} build={() => scatterConfig(p, wy, hx)} />
    </>
  );
}

// ---------- heatmap ----------
const starPlugin = {
  id: "stars",
  afterDatasetsDraw(chart: any) {
    const ctx = chart.ctx;
    ctx.save();
    ctx.font = `13px ${FONT}`;
    ctx.textAlign = "center";
    ctx.textBaseline = "middle";
    [fth1Stars, egln1Stars].forEach((stars, di) => {
      const vals = di === 0 ? fth1Cor : egln1Cor;
      chart.getDatasetMeta(di).data.forEach((bar: any, i: number) => {
        if (!stars[i]) return;
        const { x, y, base } = bar.getProps(["x", "y", "base"], true);
        ctx.fillStyle = vals[i] < -0.22 ? "#ffffff" : "#1a1a1a";
        ctx.fillText(stars[i], (x + base) / 2, y + 3);
      });
    });
    ctx.restore();
  },
};

function heatmapConfig() {
  const cell = [1, 1];
  return {
    type: "bar",
    data: {
      labels: heatRows,
      datasets: [fth1Cor, egln1Cor].map((vals, j) => ({
        label: heatCols[j],
        data: heatRows.map(() => cell[j]),
        backgroundColor: vals.map(corColor),
        borderColor: "#a3a3a3",
        borderWidth: 0.6,
        borderSkipped: false,
        barPercentage: 1,
        categoryPercentage: 1,
      })),
    },
    options: {
      ...baseOptions(),
      indexAxis: "y",
      layout: { padding: { top: 2, left: 0, right: 0, bottom: 0 }, autoPadding: false },
      scales: {
        x: {
          type: "linear", stacked: true, min: 0, max: 2, bounds: "data",
          afterBuildTicks: (s: any) => { s.ticks = [{ value: 0.5 }, { value: 1.5 }]; },
          afterFit: (s: any) => { s.height = 43; },
          ticks: { autoSkip: false, minRotation: 45, maxRotation: 45, font: { size: 9 }, color: "#000", padding: 5, callback: (_v: any, i: number) => heatCols[i] },
          grid: { display: false, drawTicks: false },
          border: { display: false },
        },
        y: {
          type: "category", stacked: true, position: "right",
          afterFit: (s: any) => { s.width = 130; },
          ticks: { autoSkip: false, font: { size: 8.5 }, color: "#000", padding: 3 },
          grid: { display: false, drawTicks: false },
          border: { display: false },
        },
      },
    },
    plugins: [starPlugin],
  };
}

function colorbarConfig() {
  return {
    type: "bar",
    data: {
      labels: ["r"],
      datasets: [{
        data: [[colorbarRange[0], colorbarRange[1]]],
        backgroundColor: (c: any) => {
          const a = c.chart.chartArea;
          if (!a) return "#ffffff";
          const g = c.chart.ctx.createLinearGradient(0, a.bottom, 0, a.top);
          const z = (0 - colorbarRange[0]) / (colorbarRange[1] - colorbarRange[0]);
          g.addColorStop(0, `rgb(${NAVY.join(",")})`);
          g.addColorStop(z, "rgb(255,255,255)");
          g.addColorStop(1, `rgb(${FIRE.join(",")})`);
          return g;
        },
        borderWidth: 0,
        barPercentage: 1,
        categoryPercentage: 1,
      }],
    },
    options: {
      ...baseOptions(),
      layout: { padding: { top: 6, bottom: 6, left: 6, right: 0 }, autoPadding: false },
      scales: {
        x: { display: false },
        y: {
          position: "right", min: colorbarRange[0], max: colorbarRange[1], bounds: "data",
          afterBuildTicks: (s: any) => { s.ticks = colorbarTicks.map((value) => ({ value })); },
          afterFit: (s: any) => { s.width = 36; },
          ticks: { font: { size: 8.5 }, color: "#000", padding: 4, callback: (_v: any, i: number) => colorbarLabels[i] },
          grid: { display: false, drawTicks: false },
          border: { display: false },
        },
      },
    },
  };
}

// ---------- violin chart ----------
function violinConfig() {
  const dodge = 0.25;
  const violins = [
    { c: tmePositions[0] - dodge, y: vStromalHighY, w: vStromalHighW, pts: jStromalHigh, box: bStromalHigh, g: 0 },
    { c: tmePositions[0] + dodge, y: vStromalLowY, w: vStromalLowW, pts: jStromalLow, box: bStromalLow, g: 1 },
    { c: tmePositions[1] - dodge, y: vImmuneHighY, w: vImmuneHighW, pts: jImmuneHigh, box: bImmuneHigh, g: 0 },
    { c: tmePositions[1] + dodge, y: vImmuneLowY, w: vImmuneLowW, pts: jImmuneLow, box: bImmuneLow, g: 1 },
    { c: tmePositions[2] - dodge, y: vEstimateHighY, w: vEstimateHighW, pts: jEstimateHigh, box: bEstimateHigh, g: 0 },
    { c: tmePositions[2] + dodge, y: vEstimateLowY, w: vEstimateLowW, pts: jEstimateLow, box: bEstimateLow, g: 1 },
  ];
  const datasets: any[] = [];
  violins.forEach((v) => {
    const left = v.y.map((y, i) => ({ x: v.c - v.w[i], y }));
    const right = v.y.map((y, i) => ({ x: v.c + v.w[i], y })).reverse();
    datasets.push({ label: riskGroups[v.g], data: [...left, ...right.slice(1)], showLine: true, fill: "shape", backgroundColor: GROUP_FILL[v.g], borderColor: GROUP_LINE[v.g], borderWidth: 1, pointRadius: 0, tension: 0.35, order: 3 });
    datasets.push({ data: [{ x: v.c, y: v.box[0] }, { x: v.c, y: v.box[4] }], showLine: true, borderColor: GROUP_BOX[v.g], borderWidth: 1, pointRadius: 0, order: 2 });
    datasets.push({ data: [{ x: v.c, y: v.box[1] }, { x: v.c, y: v.box[3] }], showLine: true, borderColor: GROUP_BOX[v.g], borderWidth: 3, pointRadius: 0, order: 2 });
    datasets.push({ data: v.pts.map(([dx, y]) => ({ x: v.c + dx, y })), pointRadius: 0.85, backgroundColor: "#111", pointBackgroundColor: "#111", borderWidth: 0, pointBorderWidth: 0, order: 1 });
  });
  return {
    type: "scatter",
    data: { datasets },
    options: {
      ...baseOptions(),
      layout: { padding: { top: 4, right: 5, left: 0, bottom: 0 }, autoPadding: false },
      scales: {
        x: {
          type: "linear", min: 0.4, max: 3.6, bounds: "data",
          afterBuildTicks: (s: any) => { s.ticks = tmePositions.map((value) => ({ value })); },
          afterFit: (s: any) => { s.height = 24; },
          ticks: { autoSkip: false, maxRotation: 0, font: { size: 9 }, color: "#222", padding: 4, callback: (_v: any, i: number) => tmeCategories[i] },
          grid: { color: "#e6e6e6", lineWidth: 0.8, tickLength: 3, tickColor: "#222" },
          border: { display: true, color: "#222", width: 1.2 },
        },
        y: {
          type: "linear", min: -5185, max: 5975, bounds: "data",
          afterBuildTicks: (s: any) => { s.ticks = tmeTicks.map((value) => ({ value })); },
          afterFit: (s: any) => { s.width = 45; },
          ticks: { font: { size: 9 }, color: "#222", padding: 3, callback: (v: any) => String(v) },
          grid: { color: "#e6e6e6", lineWidth: 0.8, tickLength: 3, tickColor: "#222" },
          border: { display: true, color: "#222", width: 1.2 },
          title: { display: true, text: "TME score", font: { size: 9 }, color: "#000", padding: { top: 6.6, bottom: 0 } },
        },
      },
    },
    plugins: [textPlugin("pvals", tmePvalues.map((t, i) => ({ text: t, x: tmePositions[i] + 0.06, y: 5450, size: 9 })))],
  };
}

// ================= App =================
export default function App() {
  const letter = (t: string, x: number, y: number, size: number) => (
    <div style={{ position: "absolute", left: x, top: y, fontSize: size, lineHeight: 1, fontFamily: FONT, color: "#000" }}>{t}</div>
  );
  return (
    <div style={{ position: "fixed", left: 0, top: 0, width: 736, height: 778, background: "#fff", overflow: "hidden", fontFamily: FONT }}>
      {panels.map((p) => <ScatterPanel key={p.title} p={p} />)}
      <ChartBox x={468} y={38} w={238} h={300} build={heatmapConfig} />
      <ChartBox x={690} y={112} w={46} h={96} build={colorbarConfig} />
      <ChartBox x={448} y={396} w={272} h={254} build={violinConfig} />
      {letter("a", 11, -1, 21)}
      {letter("b", 455, 2, 17)}
      {letter("c", 469, 370, 20)}
      <div style={{ position: "absolute", left: 680, top: 232, width: 52, textAlign: "right", fontSize: 7.5, lineHeight: "11.2px", color: "#000" }}>
        {sigLegend.map((s) => <div key={s}>{s}</div>)}
      </div>
      <div style={{ position: "absolute", left: 572, top: 374, fontSize: 9, lineHeight: "11px", color: "#000", whiteSpace: "nowrap", display: "flex", alignItems: "center" }}>
        <span>Risk</span>
        <span style={{ display: "inline-block", width: 7, height: 7, borderRadius: 4, background: GROUP_DOT[0], margin: "0 2px 0 4px" }} />
        <span>{riskGroups[0]}</span>
        <span style={{ display: "inline-block", width: 7, height: 7, borderRadius: 4, background: GROUP_DOT[1], margin: "0 2px 0 6px" }} />
        <span>{riskGroups[1]}</span>
      </div>
    </div>
  );
}
